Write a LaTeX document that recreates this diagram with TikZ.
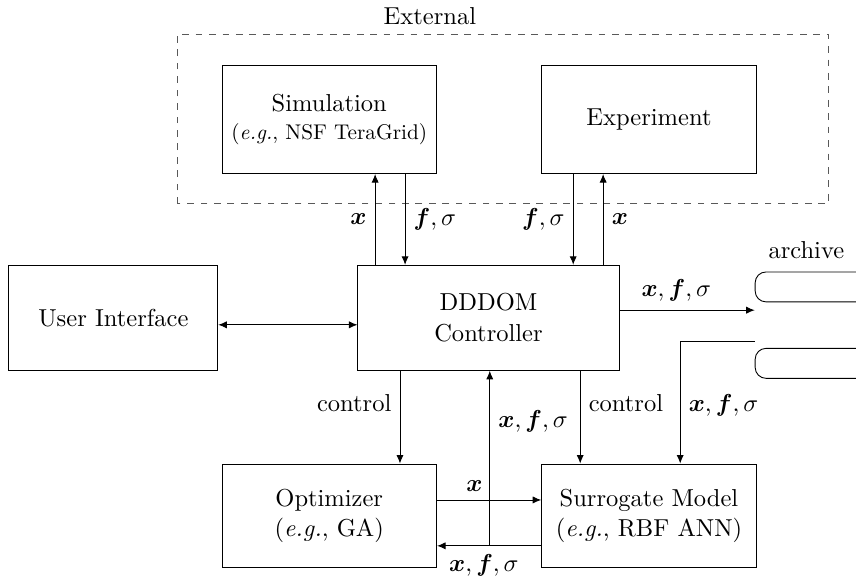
\documentclass[tikz,border=0pt,11pt]{standalone}
\usepackage{bm}
\usetikzlibrary{positioning,arrows.meta}

\begin{document}
\begin{tikzpicture}[
  >={Latex[length=3.8pt,width=3.2pt]},
  block/.style={draw,minimum width=3.37cm,minimum height=1.69cm,align=center},
  store/.style={draw,rounded corners=0.17cm,minimum width=2.6cm,minimum height=0.47cm}
]
\useasboundingbox (0,0) rectangle (13.44,9.06);

% outside world
\draw[dashed,gray!70!black] (2.78,5.86) rectangle (13.01,8.52);
\node (ext) at (6.75,8.81) {External};
\node[block] (sim) at (5.17,7.18) {Simulation\\[-1pt]{\fontsize{9.5pt}{11pt}\selectfont(\emph{e.g.}, NSF TeraGrid)}};
\node[block] (exp) at (10.19,7.18) {Experiment};

% middle row
\node[block,minimum width=3.28cm,minimum height=1.65cm] (ui) at (1.78,4.07) {User Interface};
\node[block,minimum width=4.10cm,minimum height=1.65cm] (ctrl) at (7.67,4.07) {DDDOM\\Controller};

% archive
\node (archlbl) at (12.66,5.13) {archive};
\node[store,anchor=west] (arch1) at (11.85,4.555) {};
\node[store,anchor=west] (arch2) at (11.85,3.355) {};
\coordinate (archin) at (11.85,4.19);
\coordinate (archout) at (11.85,3.70);

% bottom row
\node[block,minimum height=1.63cm] (opt) at (5.17,0.96) {Optimizer\\(\emph{e.g.}, GA)};
\node[block,minimum height=1.63cm] (sur) at (10.19,0.96) {Surrogate Model\\(\emph{e.g.}, RBF ANN)};

% columns for the vertical links
\coordinate (c1) at (5.89,0);
\coordinate (c2) at (6.36,0);
\coordinate (c3) at (9.00,0);
\coordinate (c4) at (9.47,0);
\coordinate (c5) at (6.28,0);
\coordinate (c6) at (9.11,0);
\coordinate (c7) at (7.69,0);
\coordinate (c8) at (10.68,0);

\draw[->] (ctrl.north -| c1) -- node[left] {$\bm{x}$} (sim.south -| c1);
\draw[->] (sim.south -| c2) -- node[right] {$\bm{f},\sigma$} (ctrl.north -| c2);
\draw[->] (exp.south -| c3) -- node[left] {$\bm{f},\sigma$} (ctrl.north -| c3);
\draw[->] (ctrl.north -| c4) -- node[right] {$\bm{x}$} (exp.south -| c4);

\draw[<->] ([yshift=-0.11cm]ui.east) -- ([yshift=-0.11cm]ctrl.west);
\draw[->] (ctrl.east |- archin) -- node[above,pos=0.42] {$\bm{x},\bm{f},\sigma$} (archin);
\draw[->] (archout) -| node[right,pos=0.76] {$\bm{x},\bm{f},\sigma$} (sur.north -| c8);

\draw[->] (ctrl.south -| c5) -- node[left,pos=0.35] {control} (opt.north -| c5);
\draw[->] (ctrl.south -| c6) -- node[right,pos=0.35] {control} (sur.north -| c6);

\draw[->] (opt.east |- 0,1.21) -- node[above,pos=0.36] {$\bm{x}$} (sur.west |- 0,1.21);
\draw[->] (sur.west |- 0,0.49) -- node[below,pos=0.55] {$\bm{x},\bm{f},\sigma$} (opt.east |- 0,0.49);
\draw[->] (c7 |- 0,0.49) -- node[right,pos=0.71] {$\bm{x},\bm{f},\sigma$} (ctrl.south -| c7);
\end{tikzpicture}
\end{document}
